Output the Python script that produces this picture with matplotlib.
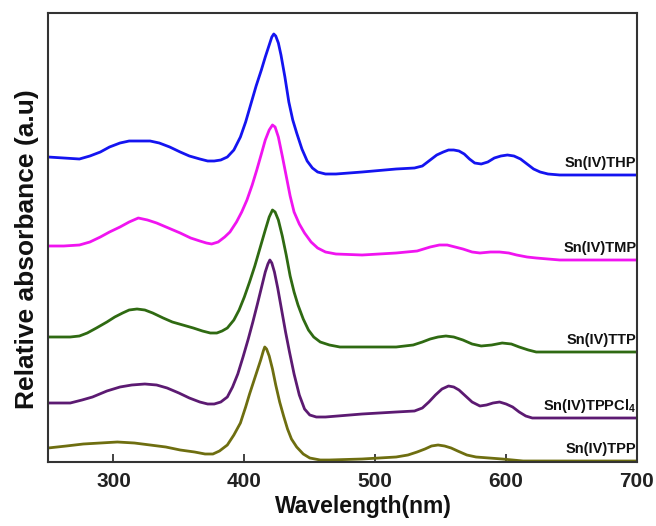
import matplotlib
matplotlib.use("Agg")
import numpy as np
from matplotlib import pyplot as plt

plt.rcParams['font.family'] = ['Liberation Sans', 'DejaVu Sans']
plt.rcParams['mathtext.fontset'] = 'custom'
plt.rcParams['mathtext.rm'] = 'Liberation Sans'
plt.rcParams['mathtext.bf'] = 'Liberation Sans:bold'

# Spectra (wavelength in nm, absorbance in a.u., already offset)
thp_wl = [250, 262, 274, 282, 290, 297, 305, 312, 320, 328, 335, 343, 351, 358, 366, 372, 377,
          382, 387, 392, 397, 401, 405, 409, 413, 416, 419, 421, 422.5, 424, 426, 428, 431, 434,
          437, 440, 444, 448, 452, 456, 462, 470, 490, 516, 530, 536, 542, 547, 552, 556, 560,
          564, 568, 572, 576, 581, 586, 591, 596, 601, 606, 611, 616, 621, 626, 632, 641, 700]
thp_abs = [3.05, 3.04, 3.03, 3.06, 3.10, 3.15, 3.19, 3.21, 3.21, 3.21, 3.19, 3.15, 3.10, 3.06, 3.03,
           3.01, 3.01, 3.02, 3.05, 3.12, 3.25, 3.40, 3.58, 3.76, 3.92, 4.05, 4.17, 4.25, 4.28, 4.26,
           4.19, 4.07, 3.85, 3.60, 3.42, 3.29, 3.13, 3.01, 2.94, 2.90, 2.88, 2.88, 2.90, 2.93, 2.94,
           2.96, 3.02, 3.07, 3.10, 3.12, 3.12, 3.11, 3.08, 3.03, 2.99, 2.98, 3.00, 3.04, 3.06, 3.07,
           3.06, 3.03, 2.98, 2.93, 2.90, 2.88, 2.87, 2.87]

tmp_wl = [250, 262, 274, 282, 290, 297, 305, 312, 319, 326, 333, 342, 351, 359, 366, 371, 375,
          380, 385, 389, 394, 398, 402, 406, 409.5, 413, 416, 419, 421.5, 423.5, 426, 429, 432,
          435, 438, 442, 446, 451, 456, 462, 470, 490, 516, 532, 542, 549, 555, 561, 567, 574,
          580, 588, 595, 602, 608, 616, 623, 632, 641, 700]
tmp_abs = [2.16, 2.16, 2.17, 2.20, 2.25, 2.30, 2.35, 2.40, 2.44, 2.42, 2.39, 2.34, 2.29, 2.24, 2.21,
           2.19, 2.18, 2.20, 2.25, 2.30, 2.40, 2.50, 2.62, 2.77, 2.92, 3.08, 3.22, 3.32, 3.37, 3.35,
           3.25, 3.06, 2.86, 2.66, 2.50, 2.38, 2.29, 2.20, 2.14, 2.10, 2.08, 2.07, 2.09, 2.11, 2.15,
           2.17, 2.17, 2.15, 2.13, 2.10, 2.09, 2.10, 2.10, 2.09, 2.07, 2.05, 2.04, 2.03, 2.02, 2.02]

ttp_wl = [250, 267, 274, 280, 287, 295, 301, 307, 312, 318, 324, 330, 338, 345, 353, 361, 368,
          374, 379, 383, 387, 392, 396, 400, 404, 408, 412, 416, 419, 421.5, 423.5, 426, 429, 432,
          435, 438, 441, 445, 449, 453, 458, 465, 473, 516, 529, 536, 542, 548, 554, 560, 567,
          574, 581, 589, 597, 604, 610, 617, 623, 700]
ttp_abs = [1.25, 1.25, 1.26, 1.29, 1.34, 1.40, 1.45, 1.49, 1.52, 1.53, 1.52, 1.49, 1.44, 1.40, 1.37,
           1.34, 1.31, 1.29, 1.29, 1.31, 1.34, 1.42, 1.52, 1.65, 1.80, 1.96, 2.14, 2.32, 2.45, 2.52,
           2.50, 2.42, 2.26, 2.07, 1.86, 1.70, 1.57, 1.43, 1.32, 1.25, 1.20, 1.17, 1.15, 1.15, 1.17,
           1.20, 1.23, 1.25, 1.26, 1.25, 1.22, 1.18, 1.16, 1.17, 1.19, 1.18, 1.15, 1.12, 1.10, 1.10]

tppcl_wl = [250, 267, 276, 284, 295, 305, 314, 324, 333, 341, 350, 358, 366, 372, 377, 382, 387,
            391, 395, 399, 403, 406.5, 410, 413, 416, 418, 419.5, 421, 423, 425.5, 428.5, 431.5,
            434.5, 438, 442, 446, 450, 455, 462, 490, 516, 530, 536, 541, 546, 551, 556, 560, 564,
            569, 574, 580, 585, 590, 595, 600, 605, 610, 615, 620, 700]
tppcl_abs = [0.59, 0.59, 0.62, 0.65, 0.71, 0.75, 0.77, 0.78, 0.77, 0.74, 0.69, 0.64, 0.60, 0.58, 0.58,
             0.60, 0.65, 0.75, 0.88, 1.05, 1.23, 1.40, 1.58, 1.74, 1.90, 1.98, 2.02, 1.99, 1.90, 1.74,
             1.52, 1.30, 1.10, 0.88, 0.67, 0.53, 0.47, 0.45, 0.45, 0.48, 0.50, 0.51, 0.54, 0.60, 0.67,
             0.73, 0.76, 0.75, 0.72, 0.66, 0.60, 0.56, 0.57, 0.59, 0.60, 0.58, 0.55, 0.50, 0.46, 0.44,
             0.44]

tpp_wl = [250, 264, 277, 290, 303, 316, 328, 340, 351, 362, 370, 376, 381, 387, 392, 397, 401, 404,
          407, 410, 412.5, 414.5, 415.6, 417, 419, 421.5, 424, 427, 430, 433, 436, 440, 445, 450,
          458, 465, 490, 516, 525, 532, 538, 543, 548, 553, 558, 563, 570, 577, 587, 597, 605, 613,
          700]
tpp_abs = [0.14, 0.16, 0.18, 0.19, 0.20, 0.19, 0.17, 0.15, 0.12, 0.10, 0.08, 0.08, 0.11, 0.17, 0.27,
           0.39, 0.55, 0.68, 0.80, 0.92, 1.02, 1.11, 1.15, 1.13, 1.06, 0.93, 0.77, 0.60, 0.46, 0.33,
           0.23, 0.15, 0.08, 0.04, 0.02, 0.02, 0.03, 0.05, 0.07, 0.10, 0.13, 0.16, 0.17, 0.16, 0.14,
           0.11, 0.07, 0.05, 0.04, 0.03, 0.02, 0.01, 0.01]

names = ['Sn(IV)THP', 'Sn(IV)TMP', 'Sn(IV)TTP', r'Sn(IV)TPPCl$_{\mathbf{4}}$', 'Sn(IV)TPP']
colors = ['#1414f0', '#f014f0', '#2f6a12', '#5c1a72', '#6e6e10']
series = [(thp_wl, thp_abs), (tmp_wl, tmp_abs), (ttp_wl, ttp_abs),
          (tppcl_wl, tppcl_abs), (tpp_wl, tpp_abs)]

fig = plt.figure(figsize=(6.56, 5.26), dpi=100)
ax = fig.add_axes([48 / 656, 1 - 462 / 526, 589 / 656, 449 / 526])

for (wl, ab), name, c in zip(series, names, colors):
    ax.plot(wl, ab, color=c, lw=2.0, solid_joinstyle='round')
    ax.text(699.5, ab[-1] + 0.08, name, ha='right', va='baseline',
            fontsize=10.5, fontweight='bold', color='#111111')

ax.set_xlim(250, 700)
ax.set_ylim(0, 4.49)
ax.set_xticks([300, 400, 500, 600, 700])
ax.set_yticks([])
ax.tick_params(axis='x', direction='in', length=5.5, width=1.2, pad=7,
               labelsize=15, colors='#222222')
for lbl in ax.get_xticklabels():
    lbl.set_fontweight('bold')
for s in ax.spines.values():
    s.set_linewidth(1.5)
    s.set_color('#333333')

fig.text(363.5 / 656, 1 - 513 / 526, 'Wavelength(nm)', ha='center', va='baseline',
         fontsize=16.5, fontweight='bold', color='#111111')
fig.text(27 / 656, 1 - 249 / 526, 'Relative absorbance (a.u)', ha='center', va='center',
         rotation=90, fontsize=19, fontweight='bold', color='#111111')

fig.savefig('out.png', dpi=100)
